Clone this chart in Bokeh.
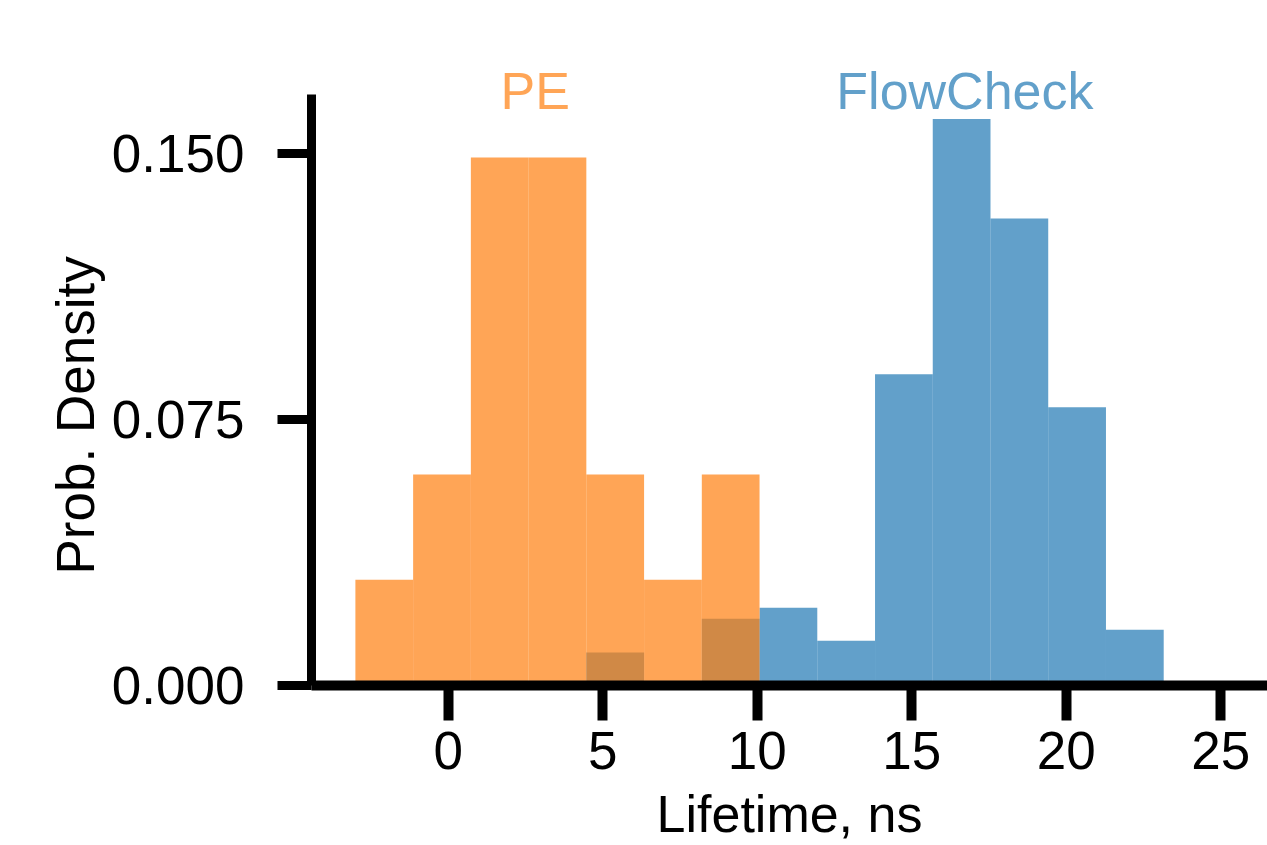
from bokeh.plotting import figure
from bokeh.models import Range1d, FixedTicker, PrintfTickFormatter, ColumnDataSource, Title
from bokeh.core.properties import value
from bokeh.embed import file_html
from bokeh.resources import INLINE

# ---- data ----
bin_edges = [-3.000, -1.132, 0.736, 2.604, 4.472, 6.340, 8.208, 10.076,
             11.944, 13.812, 15.680, 17.548, 19.416, 21.284, 23.152]

pe_first_bin = 0
pe_density = [0.0298, 0.0595, 0.1488, 0.1488, 0.0595, 0.0298, 0.0595]

flow_first_bin = 4
flow_density = [0.0093, 0.0, 0.0188, 0.0219, 0.0126, 0.0877, 0.1597,
                0.1316, 0.0784, 0.0157]

x_ticks = [0, 5, 10, 15, 20, 25]
y_ticks = [0.0, 0.075, 0.150]

series_names = ["PE", "FlowCheck"]
label_x = [2.82, 16.72]
label_y = 0.1675

PE_COLOR = "#ff7f0e"
FLOW_COLOR = "#1f77b4"
FONT = "Liberation Sans"
FS = "52px"
TICK_FS = "53px"


def hist_source(first_bin, density):
    n = len(density)
    return ColumnDataSource(dict(
        left=bin_edges[first_bin:first_bin + n],
        right=bin_edges[first_bin + 1:first_bin + n + 1],
        top=density,
    ))


p = figure(width=1267, height=845, output_backend="svg", toolbar_location=None,
           x_range=Range1d(-4.42, 26.51), y_range=Range1d(0, 0.1818),
           min_border_left=311, min_border_right=0, min_border_top=40,
           min_border_bottom=159)
p.outline_line_color = None
p.xgrid.visible = False
p.ygrid.visible = False
p.background_fill_color = "white"
p.border_fill_color = "white"

p.quad(left="left", right="right", bottom=0, top="top",
       source=hist_source(flow_first_bin, flow_density),
       fill_color=FLOW_COLOR, fill_alpha=0.7, line_color=None)
p.quad(left="left", right="right", bottom=0, top="top",
       source=hist_source(pe_first_bin, pe_density),
       fill_color=PE_COLOR, fill_alpha=0.7, line_color=None)

p.text(x=[label_x[0]], y=[label_y], text=[series_names[0]],
       text_align="center", text_baseline="alphabetic",
       text_font=value(FONT), text_font_size=FS,
       text_color=PE_COLOR, text_alpha=0.7)
p.text(x=[label_x[1]], y=[label_y], text=[series_names[1]],
       text_align="center", text_baseline="alphabetic",
       text_font=value(FONT), text_font_size=FS,
       text_color=FLOW_COLOR, text_alpha=0.7)

# x axis
xa = p.xaxis[0]
xa.ticker = FixedTicker(ticks=x_ticks)
xa.axis_label = "Lifetime, ns"
xa.axis_line_width = 10
xa.axis_line_color = "black"
xa.major_tick_line_width = 10
xa.major_tick_out = 35
xa.major_tick_in = 0
xa.minor_tick_line_color = None
xa.major_label_standoff = 11
xa.major_label_text_font = FONT
xa.major_label_text_font_size = TICK_FS
xa.major_label_text_color = "black"
xa.axis_label_text_font = FONT
xa.axis_label_text_font_size = FS
xa.axis_label_text_font_style = "normal"
xa.axis_label_text_color = "black"
xa.axis_label_standoff = 13

# y axis
ya = p.yaxis[0]
ya.ticker = FixedTicker(ticks=y_ticks)
ya.formatter = PrintfTickFormatter(format="%.3f")
ya.bounds = (0, 0.1665)
ya.axis_line_width = 9
ya.axis_line_color = "black"
ya.major_tick_line_width = 9
ya.major_tick_out = 34
ya.major_tick_in = 0
ya.minor_tick_line_color = None
ya.major_label_standoff = 33
ya.major_label_text_font = FONT
ya.major_label_text_font_size = TICK_FS
ya.major_label_text_color = "black"

ylab = Title(text="Prob. Density", align="left", offset=111,
             text_font=FONT, text_font_size="53px", text_font_style="normal",
             text_color="black", standoff=8)
p.add_layout(ylab, "left")

open("out.html", "w").write(file_html(p, INLINE))
